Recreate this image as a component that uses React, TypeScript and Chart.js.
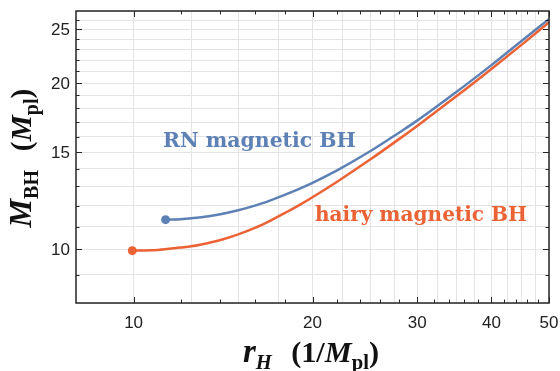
import React, { useEffect, useRef } from 'react';
import { Chart, registerables } from 'chart.js';

Chart.register(...registerables);

// ---- data ----
const rnR = [11.32, 12, 13, 14, 15, 16, 17, 18, 20, 22, 25, 28, 30, 35, 40, 45, 50];
const rnM = [11.32, 11.34, 11.43, 11.58, 11.77, 12.0, 12.27, 12.56, 13.2, 13.9, 15.05, 16.28, 17.1, 19.3, 21.55, 23.85, 26.1];

const hairyR = [9.95, 10.5, 11, 12, 12.5, 13, 14, 15, 16, 17, 18, 19, 20, 22, 25, 28, 30, 35, 40, 45, 50];
const hairyM = [9.95, 9.96, 9.98, 10.08, 10.13, 10.21, 10.4, 10.65, 10.94, 11.28, 11.65, 12.03, 12.43, 13.26, 14.54, 15.85, 16.73, 18.96, 21.21, 23.47, 25.75];

const xLabelTicks = [10, 20, 30, 40, 50];
const xGridTicks = [10, 12.5, 15, 17.5, 20, 22.5, 25, 27.5, 30, 32.5, 35, 37.5, 40, 42.5, 45, 47.5, 50];
const xMinorTicks = [12, 14, 16, 18, 22, 24, 26, 28, 32, 34, 36, 38, 42, 44, 46, 48];
const yLabelTicks = [10, 15, 20, 25];
const yGridTicks = [8, 9, 10, 11, 12, 13, 14, 15, 16, 17, 18, 19, 20, 21, 22, 23, 24, 25, 26, 27];
const yMinorTicks = [9, 11, 12, 13, 14, 16, 17, 18, 19, 21, 22, 23, 24, 26];

const BLUE = '#5E81B5';
const RED = '#EB6235';

type Seg = { t: string; st: string; sz: number; fam: string; dy?: number; gap?: number };

const SERIF = '"DejaVu Serif", "Liberation Serif", serif';
const TSERIF = '"Liberation Serif", "DejaVu Serif", serif';
const SANS = '"Liberation Sans", Arial, sans-serif';

function segsWidth(ctx: CanvasRenderingContext2D, segs: Seg[], k: number) {
  let w = 0;
  segs.forEach((s, i) => {
    ctx.font = `${s.st} ${s.sz * k}px ${s.fam}`;
    w += ctx.measureText(s.t).width;
    if (i < segs.length - 1) w += (s.gap || 0) * k;
  });
  return w;
}

function drawFit(ctx: CanvasRenderingContext2D, segs: Seg[], cx: number, baseline: number, target: number, color: string) {
  const w1 = segsWidth(ctx, segs, 1);
  const k = target / w1;
  let x = cx - target / 2;
  ctx.fillStyle = color;
  ctx.textBaseline = 'alphabetic';
  ctx.textAlign = 'left';
  segs.forEach((s) => {
    ctx.font = `${s.st} ${s.sz * k}px ${s.fam}`;
    ctx.fillText(s.t, x, baseline + (s.dy || 0) * k);
    x += ctx.measureText(s.t).width + (s.gap || 0) * k;
  });
}

const decorPlugin = {
  id: 'decor',
  afterDraw(chart: any) {
    const { ctx, chartArea: a, scales } = chart;
    const xs = scales.x;
    const ys = scales.y;
    ctx.save();
    ctx.strokeStyle = '#262626';
    ctx.lineWidth = 1.5;
    ctx.strokeRect(a.left, a.top, a.right - a.left, a.bottom - a.top);
    ctx.lineWidth = 1;
    const xt = (v: number, len: number) => {
      const p = Math.round(xs.getPixelForValue(v)) + 0.5;
      ctx.beginPath();
      ctx.moveTo(p, a.bottom);
      ctx.lineTo(p, a.bottom - len);
      ctx.moveTo(p, a.top);
      ctx.lineTo(p, a.top + len);
      ctx.stroke();
    };
    const yt = (v: number, len: number) => {
      const p = Math.round(ys.getPixelForValue(v)) + 0.5;
      ctx.beginPath();
      ctx.moveTo(a.left, p);
      ctx.lineTo(a.left + len, p);
      ctx.moveTo(a.right, p);
      ctx.lineTo(a.right - len, p);
      ctx.stroke();
    };
    xMinorTicks.forEach((v) => xt(v, 3.5));
    xLabelTicks.forEach((v) => xt(v, 6));
    yMinorTicks.forEach((v) => yt(v, 3.5));
    yLabelTicks.forEach((v) => yt(v, 6));

    // tick labels
    ctx.fillStyle = '#222';
    ctx.font = `17px ${SANS}`;
    ctx.textBaseline = 'alphabetic';
    ctx.textAlign = 'center';
    xLabelTicks.forEach((v) => ctx.fillText(String(v), xs.getPixelForValue(v), a.bottom + 25));
    ctx.textAlign = 'right';
    yLabelTicks.forEach((v) => ctx.fillText(String(v), a.left - 6, ys.getPixelForValue(v) + 6));

    drawFit(ctx, [{ t: 'RN magnetic BH', st: 'bold', sz: 20, fam: SERIF }], (163 + 356) / 2, 147, 193, BLUE);
    drawFit(ctx, [{ t: 'hairy magnetic BH', st: 'bold', sz: 20, fam: SERIF }], (315 + 527) / 2, 221, 212, RED);

    drawFit(
      ctx,
      [
        { t: 'r', st: 'italic bold', sz: 24, fam: TSERIF },
        { t: 'H', st: 'italic bold', sz: 15, fam: TSERIF, dy: 5, gap: 14 },
        { t: '(1/', st: 'bold', sz: 22, fam: TSERIF },
        { t: 'M', st: 'italic bold', sz: 22, fam: TSERIF },
        { t: 'pl', st: 'bold', sz: 15, fam: TSERIF, dy: 5 },
        { t: ')', st: 'bold', sz: 22, fam: TSERIF },
      ],
      311,
      362,
      136,
      '#111'
    );

    ctx.save();
    ctx.translate(31, 158);
    ctx.rotate(-Math.PI / 2);
    drawFit(
      ctx,
      [
        { t: 'M', st: 'italic bold', sz: 24, fam: TSERIF },
        { t: 'BH', st: 'bold', sz: 15, fam: TSERIF, dy: 5, gap: 14 },
        { t: '(', st: 'bold', sz: 22, fam: TSERIF },
        { t: 'M', st: 'italic bold', sz: 22, fam: TSERIF },
        { t: 'pl', st: 'bold', sz: 15, fam: TSERIF, dy: 5 },
        { t: ')', st: 'bold', sz: 22, fam: TSERIF },
      ],
      0,
      0,
      139,
      '#111'
    );
    ctx.restore();
    ctx.restore();
  },
};

export default function App() {
  const ref = useRef<HTMLCanvasElement | null>(null);
  useEffect(() => {
    if (!ref.current) return;
    const mk = (rs: number[], ms: number[], color: string, label: string) => ({
      label,
      data: rs.map((r, i) => ({ x: r, y: ms[i] })),
      borderColor: color,
      backgroundColor: color,
      borderWidth: 2.5,
      pointRadius: (c: any) => (c.dataIndex === 0 ? 4.5 : 0),
      pointHoverRadius: 0,
      pointBorderWidth: 0,
      pointBackgroundColor: color,
      cubicInterpolationMode: 'monotone' as const,
      clip: false as any,
    });
    const chart = new Chart(ref.current, {
      type: 'line',
      data: {
        datasets: [mk(hairyR, hairyM, RED, 'hairy magnetic BH'), mk(rnR, rnM, BLUE, 'RN magnetic BH')],
      },
      options: {
        animation: false,
        responsive: true,
        maintainAspectRatio: false,
        layout: { padding: { top: 11, right: 11, left: 0, bottom: 0 } },
        plugins: { legend: { display: false }, tooltip: { enabled: false } },
        events: [],
        scales: {
          x: {
            type: 'logarithmic',
            min: 8,
            max: 50,
            afterBuildTicks: (s: any) => {
              s.ticks = xGridTicks.map((v) => ({ value: v }));
            },
            afterFit: (s: any) => {
              s.height = 68;
            },
            ticks: { display: false, autoSkip: false },
            grid: { color: '#e4e4e4', lineWidth: 1, drawTicks: false },
            border: { display: false },
          },
          y: {
            type: 'logarithmic',
            min: 8,
            max: 27,
            afterBuildTicks: (s: any) => {
              s.ticks = yGridTicks.map((v) => ({ value: v }));
            },
            afterFit: (s: any) => {
              s.width = 76;
            },
            ticks: { display: false, autoSkip: false },
            grid: { color: '#e4e4e4', lineWidth: 1, drawTicks: false },
            border: { display: false },
          },
        },
      },
      plugins: [decorPlugin],
    });
    return () => chart.destroy();
  }, []);
  return (
    <div style={{ position: 'fixed', left: 0, top: 0, width: 560, height: 371, background: '#fff' }}>
      <canvas ref={ref} />
    </div>
  );
}
